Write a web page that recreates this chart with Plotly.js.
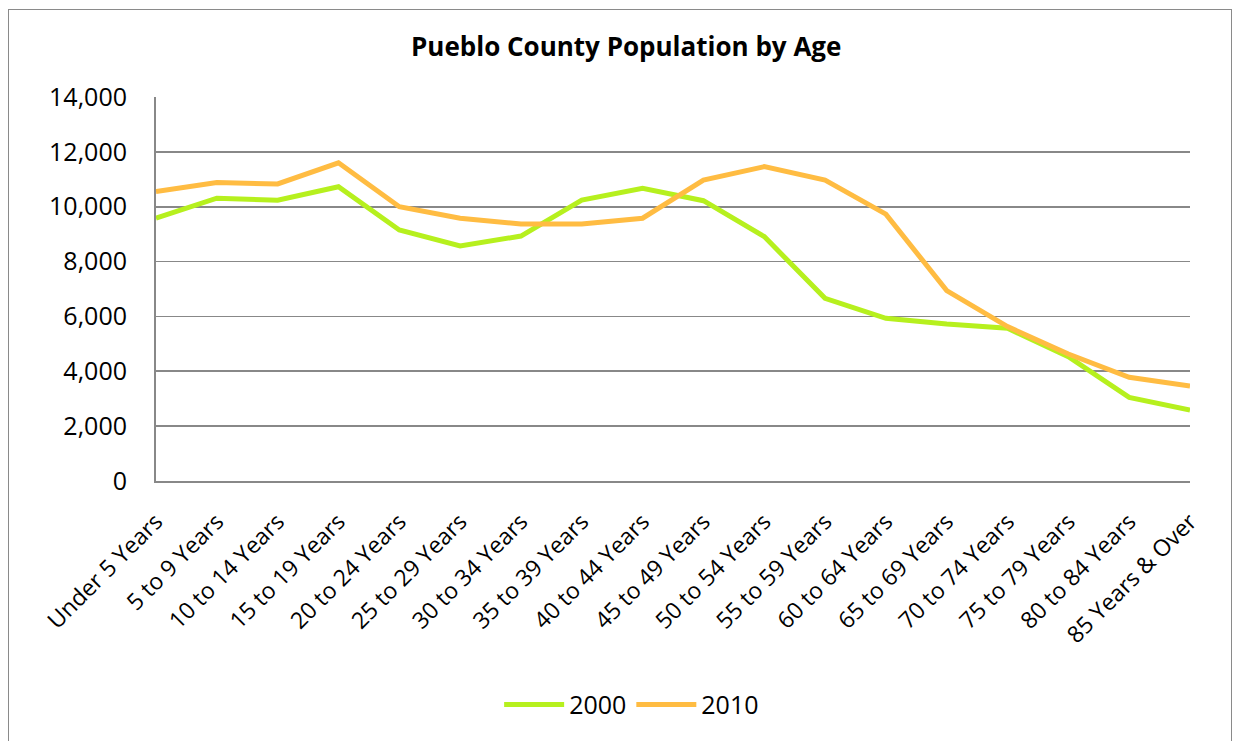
<!DOCTYPE html>
<html>
<head>
<meta charset="utf-8">
<script src="https://cdn.plot.ly/plotly-3.0.1.min.js"></script>
<style>
html,body{margin:0;padding:0;background:#fff;}
#wrap{position:relative;width:1240px;height:741px;}
#chart{width:1240px;height:741px;}
#frame{position:absolute;left:8px;top:9px;width:1224px;height:740px;border:1.5px solid #8a8a8a;pointer-events:none;box-sizing:border-box;}
</style>
</head>
<body>
<div id="wrap"><div id="chart"></div><div id="frame"></div></div>
<script>
const categories = ["Under 5 Years","5 to 9 Years","10 to 14 Years","15 to 19 Years","20 to 24 Years","25 to 29 Years","30 to 34 Years","35 to 39 Years","40 to 44 Years","45 to 49 Years","50 to 54 Years","55 to 59 Years","60 to 64 Years","65 to 69 Years","70 to 74 Years","75 to 79 Years","80 to 84 Years","85 Years & Over"];
const pop2000 = [9580,10310,10240,10730,9150,8570,8930,10240,10670,10220,8910,6660,5930,5720,5570,4530,3050,2590];
const pop2010 = [10550,10880,10830,11600,10000,9580,9370,9370,9580,10970,11460,10970,9730,6940,5630,4630,3780,3460];
const seriesNames = ["2000","2010"];
const yTicks = [0,2000,4000,6000,8000,10000,12000,14000];

const font = "'Open Sans', sans-serif";
const traces = [
  {x: categories, y: pop2000, name: seriesNames[0], type: 'scatter', mode: 'lines',
   line: {color: '#B6F01E', width: 5}},
  {x: categories, y: pop2010, name: seriesNames[1], type: 'scatter', mode: 'lines',
   line: {color: '#FFBC42', width: 5}}
];
const layout = {
  width: 1240, height: 741,
  margin: {l: 156, r: 50, t: 97, b: 260},
  paper_bgcolor: '#fff', plot_bgcolor: '#fff',
  font: {family: font, color: '#000', size: 24},
  title: {text: '<b>Pueblo County Population by Age</b>', font: {family: font, size: 26, color: '#000'},
          x: 0.505, xanchor: 'center', y: 0.937, yanchor: 'middle'},
  xaxis: {type: 'category', range: [0, 17], showgrid: false, showline: true, linecolor: '#888', linewidth: 2,
          tickangle: -45, tickfont: {family: font, size: 23}, ticks: '', zeroline: false, fixedrange: true,
          ticklabelstandoff: 16},
  yaxis: {range: [0, 14000], tickvals: yTicks, tickformat: ',d', showgrid: true, gridcolor: '#888', gridwidth: 1.8,
          showline: true, linecolor: '#888', linewidth: 2, zeroline: false, ticks: '', ticklen: 0,
          tickfont: {family: font, size: 25}, ticklabelstandoff: 22},
  showlegend: true,
  legend: {orientation: 'h', x: 0.46, xanchor: 'center', y: -0.583, yanchor: 'middle', itemwidth: 60,
           font: {family: font, size: 25}, traceorder: 'normal'}
};
Plotly.newPlot('chart', traces, layout, {displayModeBar: false, staticPlot: true});
</script>
</body>
</html>
